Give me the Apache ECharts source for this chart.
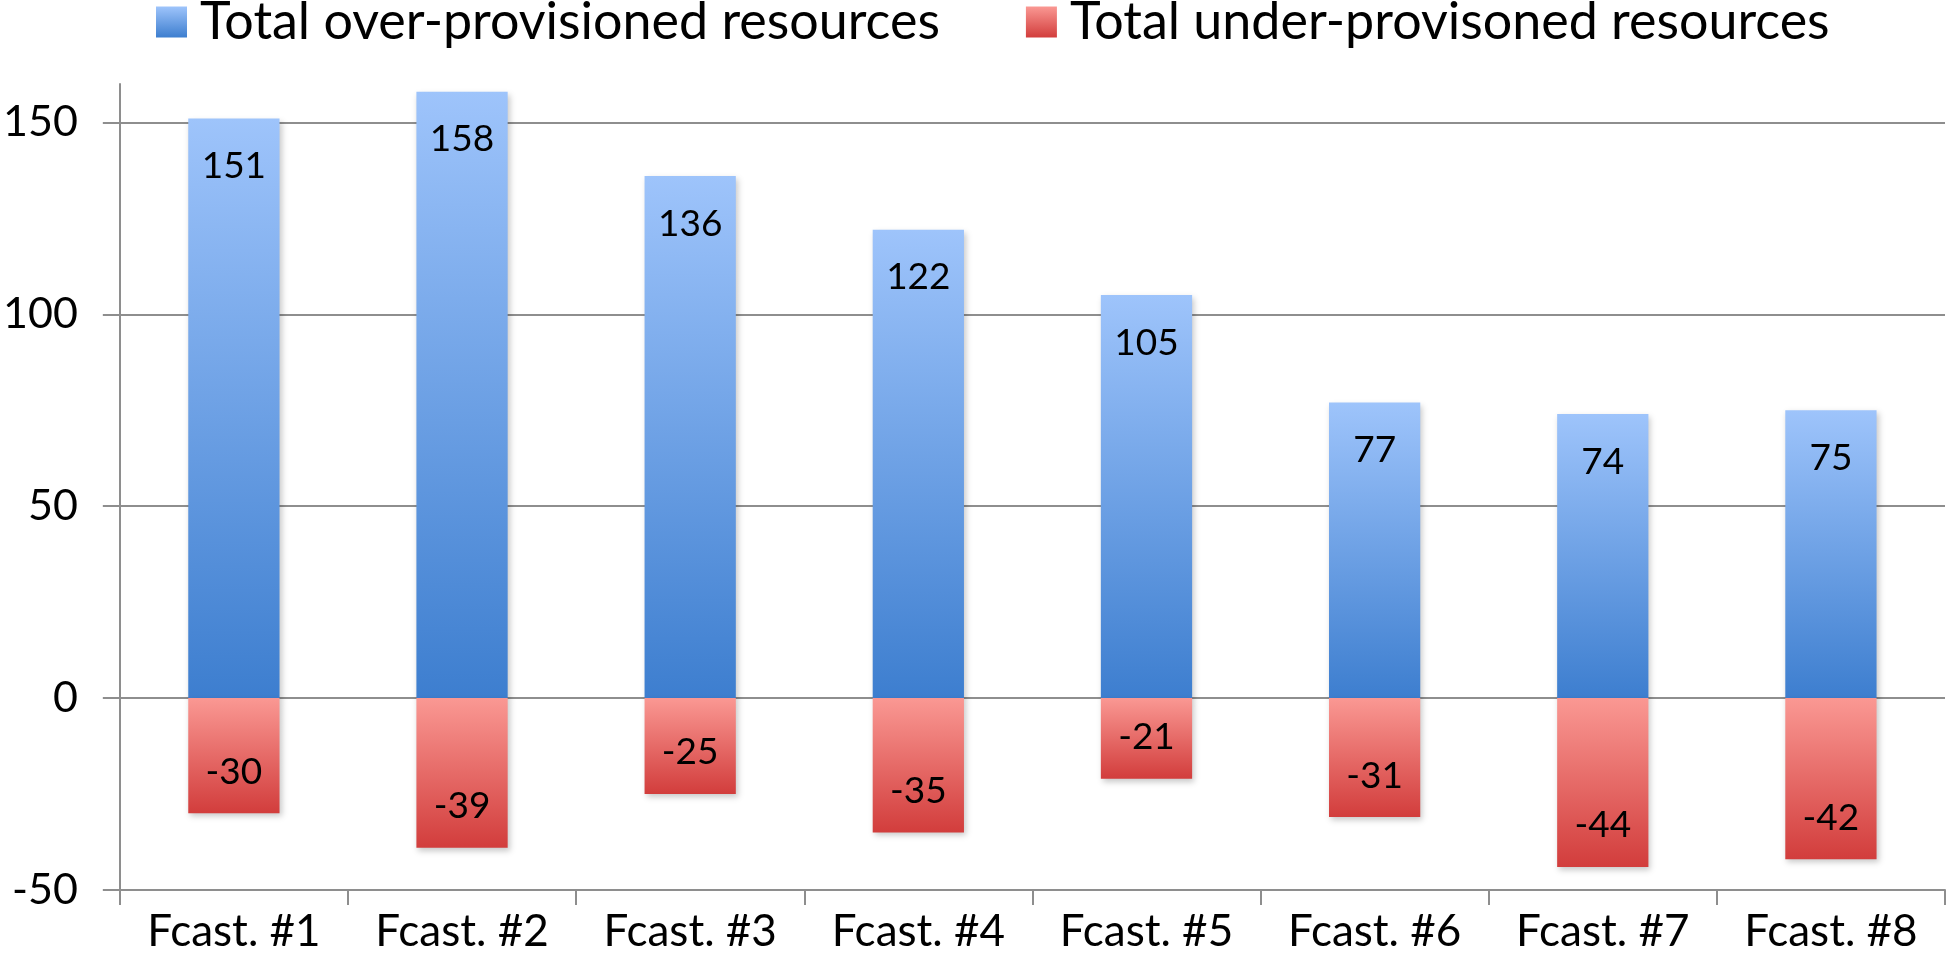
<!DOCTYPE html>
<html>
<head>
<meta charset="utf-8">
<script src="https://cdn.jsdelivr.net/npm/echarts@6/dist/echarts.min.js"></script>
<style>
html,body{margin:0;padding:0;background:#fff;}
#chart{width:1947px;height:970px;}
</style>
</head>
<body>
<div id="chart"></div>
<script>
const categories = ['Fcast. #1','Fcast. #2','Fcast. #3','Fcast. #4','Fcast. #5','Fcast. #6','Fcast. #7','Fcast. #8'];
const overProvisioned = [151, 158, 136, 122, 105, 77, 74, 75];
const underProvisioned = [-30, -39, -25, -35, -21, -31, -44, -42];
const yTicks = [-50, 0, 50, 100, 150];
const seriesNames = ['Total over-provisioned resources', 'Total under-provisoned resources'];

const FONT = 'Lato';
const axisGrey = '#8e8e8e';

const blueGrad = new echarts.graphic.LinearGradient(0, 0, 0, 1, [
  {offset: 0, color: '#9ec4fb'},
  {offset: 1, color: '#3d7ecf'}
]);
const redGrad = new echarts.graphic.LinearGradient(0, 0, 0, 1, [
  {offset: 0, color: '#fa9893'},
  {offset: 1, color: '#d23d3c'}
]);

const chart = echarts.init(document.getElementById('chart'));
chart.setOption({
  animation: false,
  backgroundColor: '#fff',
  legend: {
    top: -9,
    left: 151,
    itemWidth: 31,
    itemHeight: 31,
    itemGap: 86,
    icon: 'rect',
    textStyle: {fontFamily: FONT, fontSize: 52, color: '#000', padding: [0, 0, 0, 8]},
    data: seriesNames
  },
  grid: {left: 116, right: 2, top: 84, bottom: 80, containLabel: false},
  xAxis: {
    type: 'category',
    data: categories,
    axisLine: {onZero: false, lineStyle: {color: axisGrey, width: 2}},
    axisTick: {show: true, length: 15, lineStyle: {color: axisGrey, width: 2}},
    axisLabel: {fontFamily: FONT, fontSize: 44, color: '#000', margin: 20}
  },
  yAxis: {
    type: 'value',
    min: -50,
    max: 160,
    interval: 50,
    axisLine: {show: true, lineStyle: {color: axisGrey, width: 2}},
    axisTick: {show: true, length: 17, customValues: yTicks, lineStyle: {color: axisGrey, width: 2}},
    axisLabel: {fontFamily: FONT, fontSize: 43, color: '#000', margin: 42, customValues: yTicks},
    splitLine: {show: true, lineStyle: {color: axisGrey, width: 2}}
  },
  series: [
    {
      name: seriesNames[0],
      type: 'bar',
      data: overProvisioned,
      barWidth: '40%',
      barGap: '-100%',
      itemStyle: {color: blueGrad, shadowBlur: 6, shadowColor: 'rgba(0,0,0,0.22)', shadowOffsetX: 2, shadowOffsetY: 3},
      label: {show: true, position: 'insideTop', distance: 29, fontFamily: FONT, fontSize: 37, color: '#000'}
    },
    {
      name: seriesNames[1],
      type: 'bar',
      data: underProvisioned,
      barWidth: '40%',
      barGap: '-100%',
      itemStyle: {color: redGrad, shadowBlur: 6, shadowColor: 'rgba(0,0,0,0.22)', shadowOffsetX: 2, shadowOffsetY: 3},
      label: {show: true, position: 'insideBottom', distance: 23, fontFamily: FONT, fontSize: 37, color: '#000'}
    }
  ]
});
</script>
</body>
</html>
